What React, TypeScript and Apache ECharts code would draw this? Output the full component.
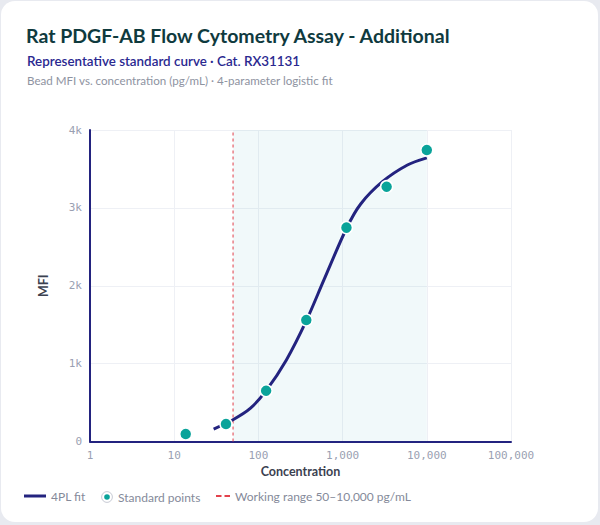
import React, { useEffect, useRef } from "react";
import * as echarts from "echarts";

// ---- data ----
const standardConc = [13.7, 41.2, 123.5, 370.4, 1111, 3333, 10000];
const standardMFI = [96, 225, 652, 1560, 2746, 3272, 3743];

const fitConc = [29.4, 49.4, 80, 123.5, 215, 370, 600, 1110, 1640, 2970, 5890, 10000];
const fitMFI = [160, 276, 424, 652, 1047, 1548, 2075, 2735, 3050, 3336, 3550, 3642];

const workingRange = [50, 10000];

const xTicks = [1, 10, 100, 1000, 10000, 100000];
const yTicks = [0, 1000, 2000, 3000, 4000];

const titleText = "Rat PDGF-AB Flow Cytometry Assay - Additional";
const subtitleText = "Representative standard curve · Cat. RX31131";
const noteText = "Bead MFI vs. concentration (pg/mL) · 4-parameter logistic fit";
const seriesNames = ["4PL fit", "Standard points", "Working range 50–10,000 pg/mL"];

const FONT = "Lato, 'Noto Sans', sans-serif";
const MONO = "'DejaVu Sans Mono', monospace";
const NAVY = "#23237f";
const TEAL = "#0aa39a";
const RED = "#e3424c";

const ringIcon =
  "image://data:image/svg+xml;charset=utf-8," +
  encodeURIComponent(
    `<svg xmlns="http://www.w3.org/2000/svg" width="24" height="24" viewBox="0 0 24 24"><circle cx="12" cy="12" r="10.8" fill="#ffffff" stroke="#b9bdc9" stroke-width="1.6"/><circle cx="12" cy="12" r="5.6" fill="${TEAL}"/></svg>`
  );
const lineIcon = "path://M0,0H22V3H0Z";
const dashIcon = "path://M0,0H5.5V2H0Z M8.5,0H14V2H8.5Z";

export default function App() {
  const ref = useRef<HTMLDivElement>(null);

  useEffect(() => {
    if (!ref.current) return;
    const chart = echarts.init(ref.current, null, { renderer: "svg" });
    const legendText = { color: "#858a9a", fontSize: 12, fontFamily: FONT };
    const yMin = yTicks[0];
    const yMax = yTicks[yTicks.length - 1];
    chart.setOption({
      animation: false,
      backgroundColor: "transparent",
      textStyle: { fontFamily: FONT },
      title: [
        {
          text: titleText,
          left: 21,
          top: 20,
          textStyle: { fontSize: 19.5, fontWeight: "bold", color: "#0f3a3e", fontFamily: FONT },
        },
        {
          text: subtitleText,
          left: 22,
          top: 49,
          textStyle: { fontSize: 13.4, fontWeight: 600, color: "#2a2890", fontFamily: FONT },
        },
        {
          text: noteText,
          left: 22,
          top: 69,
          textStyle: { fontSize: 11.6, fontWeight: "normal", color: "#8e93a1", fontFamily: FONT },
        },
      ],
      grid: { left: 90, right: 89, top: 130, bottom: 83.5, containLabel: false },
      legend: [
        {
          data: [{ name: seriesNames[0], icon: lineIcon }],
          left: 19,
          top: 485,
          itemWidth: 22,
          itemHeight: 14,
          textStyle: legendText,
          itemStyle: { color: NAVY },
          selectedMode: false,
        },
        {
          data: [{ name: seriesNames[1], icon: ringIcon }],
          left: 96,
          top: 485,
          itemWidth: 12,
          itemHeight: 14,
          textStyle: legendText,
          selectedMode: false,
        },
        {
          data: [{ name: seriesNames[2], icon: dashIcon }],
          left: 211,
          top: 485,
          itemWidth: 14,
          itemHeight: 14,
          textStyle: legendText,
          itemStyle: { color: RED },
          selectedMode: false,
        },
      ],
      xAxis: {
        type: "log",
        logBase: 10,
        min: xTicks[0],
        max: xTicks[xTicks.length - 1],
        name: "Concentration",
        nameLocation: "middle",
        nameGap: 21,
        nameTextStyle: { fontSize: 12.5, fontWeight: "bold", color: "#3b4150", fontFamily: FONT },
        axisLine: { show: true, lineStyle: { color: NAVY, width: 2 } },
        axisTick: { show: false },
        axisLabel: {
          margin: 8,
          color: "#9a9fb2",
          fontSize: 11,
          fontFamily: MONO,
          formatter: (v: number) => Math.round(v).toLocaleString("en-US"),
        },
        splitLine: { show: true, lineStyle: { color: "#eef0f5", width: 1 } },
      },
      yAxis: {
        type: "value",
        min: yMin,
        max: yMax,
        interval: yTicks[1] - yTicks[0],
        name: "MFI",
        nameLocation: "middle",
        nameGap: 40,
        nameTextStyle: { fontSize: 12.5, fontWeight: "bold", color: "#3b4150", fontFamily: FONT },
        axisLine: { show: true, lineStyle: { color: NAVY, width: 2 } },
        axisTick: { show: false },
        axisLabel: {
          margin: 8,
          color: "#9a9fb2",
          fontSize: 11,
          fontFamily: MONO,
          formatter: (v: number) => (v === 0 ? "0" : `${v / 1000}k`),
        },
        splitLine: { show: true, lineStyle: { color: "#eef0f5", width: 1 } },
      },
      series: [
        {
          name: seriesNames[2],
          type: "line",
          data: [
            [workingRange[0], yMin],
            [workingRange[0], yMax],
          ],
          symbol: "none",
          silent: true,
          lineStyle: { color: RED, width: 1.2, type: [3, 3], opacity: 0.85 },
          itemStyle: { color: RED },
          z: 2,
          markArea: {
            silent: true,
            itemStyle: { color: "rgba(40, 170, 185, 0.065)" },
            data: [[{ xAxis: workingRange[0] }, { xAxis: workingRange[1] }]],
          },
        },
        {
          name: seriesNames[0],
          type: "line",
          data: fitConc.map((c, i) => [c, fitMFI[i]]),
          smooth: 0.3,
          symbol: "none",
          lineStyle: { color: NAVY, width: 3 },
          itemStyle: { color: NAVY },
          z: 3,
        },
        {
          name: seriesNames[1],
          type: "scatter",
          data: standardConc.map((c, i) => [c, standardMFI[i]]),
          symbolSize: 12,
          itemStyle: { color: TEAL, borderColor: "#ffffff", borderWidth: 1.5, opacity: 1 },
          z: 4,
        },
      ],
    });
    return () => chart.dispose();
  }, []);

  return (
    <div style={{ position: "fixed", left: 0, top: 0, width: 600, height: 525, background: "#e8eaf0" }}>
      <div
        style={{
          position: "absolute",
          left: 1,
          top: 1,
          width: 597,
          height: 521,
          background: "#ffffff",
          borderRadius: 14,
        }}
      />
      <div ref={ref} style={{ position: "absolute", left: 0, top: 0, width: 600, height: 525 }} />
    </div>
  );
}
